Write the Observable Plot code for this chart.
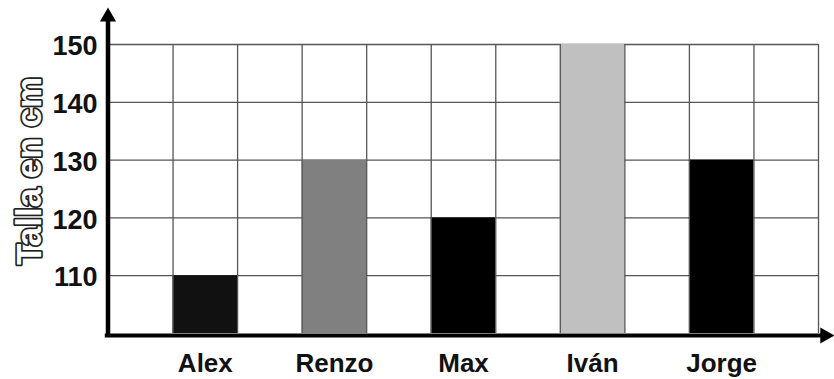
<!DOCTYPE html>
<html><head><meta charset="utf-8">
<script src="https://cdn.jsdelivr.net/npm/d3@7"></script>
<script src="https://cdn.jsdelivr.net/npm/@observablehq/plot@0.6"></script>
<style>body{margin:0;background:#fff}</style>
</head><body><div id="chart"></div>
<script>
const names = ["Alex", "Renzo", "Max", "Iván", "Jorge"];
const heights = [110, 130, 120, 150, 130];
const barColors = ["#111111", "#808080", "#000000", "#c0c0c0", "#000000"];
const yTicks = [110, 120, 130, 140, 150];
const yBase = 100;
const yLabel = "Talla en cm";

const slots = names.length * 2 + 1;
const yTop = yTicks[yTicks.length - 1];
const bars = names.map((name, i) => ({name, value: heights[i], color: barColors[i], x1: 2 * i + 1, x2: 2 * i + 2}));
const font = "'Liberation Sans', Arial, Helvetica, sans-serif";
const gridColor = "#555";

const chart = Plot.plot({
  width: 834, height: 379,
  marginLeft: 108, marginRight: 16, marginTop: 44, marginBottom: 46,
  x: {domain: [0, slots], axis: null},
  y: {domain: [yBase, yTop], axis: null},
  color: {type: "identity"},
  style: {fontFamily: font, background: "white", overflow: "visible"},
  marks: [
    Plot.ruleY(yTicks, {x1: 0, x2: slots, stroke: gridColor, strokeWidth: 1.3}),
    Plot.rect(bars, {x1: "x1", x2: "x2", y1: yBase, y2: "value", fill: d => d.color}),
    Plot.ruleX(d3.range(0, slots + 1), {y1: yBase, y2: yTop, stroke: gridColor, strokeWidth: 1.3}),
    // axis lines with arrowheads
    Plot.ruleY([yBase], {x1: -0.05, x2: slots + 0.15, stroke: "#000", strokeWidth: 4, dy: 2}),
    Plot.ruleX([0], {y1: yBase - 0.6, y2: yTop + 4, stroke: "#000", strokeWidth: 4.5, dx: -0.5}),
    Plot.dot([0], {x: 0, y: yTop + 4.8, symbol: "triangle", r: 6, fill: "#000", dx: -0.5}),
    Plot.dot([0], {x: slots + 0.1, y: yBase, symbol: "triangle", r: 6, fill: "#000", rotate: 90, dy: 2}),
    // tick labels
    Plot.text(yTicks, {x: 0, y: d => d, text: d => String(d), textAnchor: "end", dx: -11, dy: 2, fontSize: 27, fontWeight: "bold", fill: "#111"}),
    Plot.text(bars, {x: d => (d.x1 + d.x2) / 2, y: yBase, text: "name", dy: 30, fontSize: 26, fontWeight: "bold", fill: "#111"}),
    // y title
    Plot.text([yLabel], {frameAnchor: "left", textAnchor: "middle", text: d => d, rotate: -90, dx: -79, dy: -18, fontSize: 35, fontWeight: "bold", fill: "white", stroke: "#222", strokeWidth: 3.5})
  ]
});
document.getElementById("chart").append(chart);
</script>
</body></html>
